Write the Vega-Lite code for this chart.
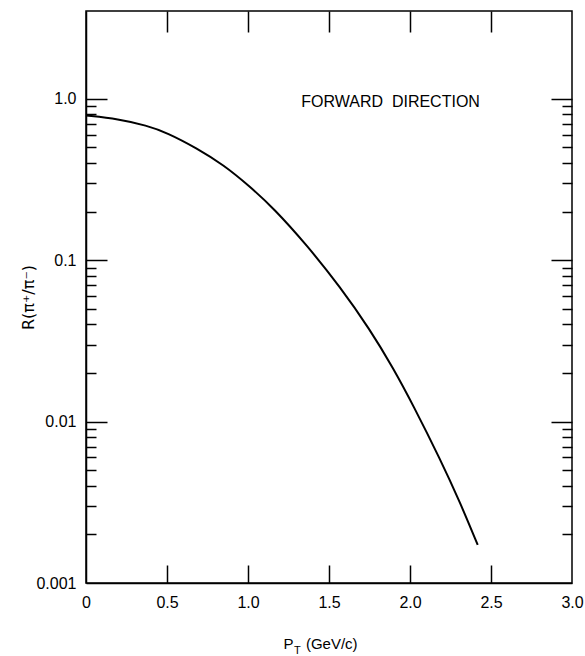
{
  "$schema": "https://vega.github.io/schema/vega-lite/v6.json",
  "width": 486,
  "height": 572,
  "autosize": {"type": "none"},
  "padding": {"left": 86, "top": 11, "right": 13, "bottom": 73},
  "background": "white",
  "config": {
    "view": {"stroke": "black", "strokeWidth": 1.5},
    "axis": {
      "grid": false,
      "domainColor": "black",
      "domainWidth": 1.5,
      "tickColor": "black",
      "tickWidth": 1.5,
      "labelColor": "black",
      "titleColor": "black",
      "labelFont": "Liberation Sans",
      "titleFont": "Liberation Sans",
      "labelFontSize": 16,
      "titleFontWeight": "normal",
      "labelFlush": false,
      "labelOverlap": false
    }
  },
  "datasets": {
    "curve": [
      {"pt": 0.0, "r": 0.788},
      {"pt": 0.2, "r": 0.75},
      {"pt": 0.375, "r": 0.683},
      {"pt": 0.5, "r": 0.617},
      {"pt": 0.683, "r": 0.495},
      {"pt": 0.85, "r": 0.389},
      {"pt": 1.012, "r": 0.286},
      {"pt": 1.156, "r": 0.211},
      {"pt": 1.362, "r": 0.1245},
      {"pt": 1.568, "r": 0.0684},
      {"pt": 1.753, "r": 0.0372},
      {"pt": 1.897, "r": 0.0214},
      {"pt": 2.02, "r": 0.0126},
      {"pt": 2.185, "r": 0.00589},
      {"pt": 2.309, "r": 0.00316},
      {"pt": 2.418, "r": 0.00172}
    ],
    "note": [{"pt": 1.88, "r": 0.958, "label": "FORWARD\u00a0\u00a0DIRECTION"}],
    "sub": [{"pt": 1.305, "r": 0.000379, "label": "T"}]
  },
  "layer": [
    {
      "data": {"name": "curve"},
      "mark": {"type": "line", "color": "black", "strokeWidth": 2, "interpolate": "basis"},
      "encoding": {
        "x": {
          "field": "pt", "type": "quantitative",
          "scale": {"domain": [0, 3], "nice": false, "zero": false},
          "axis": {
            "orient": "bottom",
            "values": [0, 0.5, 1, 1.5, 2, 2.5, 3],
            "ticks": false,
            "labelPadding": 11,
            "labelExpr": "datum.value == 0 ? '0' : format(datum.value, '.1f')",
            "title": "P\u00a0\u00a0\u00a0(GeV/c)",
            "titleFontSize": 15,
            "titlePadding": 26,
            "titleX": 234
          }
        },
        "y": {
          "field": "r", "type": "quantitative",
          "scale": {"type": "log", "domain": [0.001, 3.5], "nice": false},
          "axis": {
            "orient": "left",
            "values": [0.001, 0.01, 0.1, 1],
            "ticks": false,
            "labelPadding": 10,
            "labelExpr": "datum.value >= 0.9 ? '1.0' : datum.value >= 0.09 ? '0.1' : datum.value >= 0.009 ? '0.01' : '0.001'",
            "title": "R(π⁺/π⁻)",
            "titleFont": "DejaVu Sans",
            "titleFontSize": 16,
            "titlePadding": -1
          }
        }
      }
    },
    {
      "data": {"name": "curve"},
      "mark": {"type": "line", "strokeOpacity": 0},
      "encoding": {
        "x": {"field": "pt", "type": "quantitative",
          "axis": {"orient": "top", "values": [0.5, 1, 1.5, 2, 2.5], "tickSize": -21, "labels": false, "domain": false, "title": null}},
        "y": {"field": "r", "type": "quantitative",
          "axis": {"orient": "left", "values": [0.01, 0.1, 1], "tickSize": -21, "labels": false, "domain": false, "title": null}}
      }
    },
    {
      "data": {"name": "curve"},
      "mark": {"type": "line", "strokeOpacity": 0},
      "encoding": {
        "x": {"field": "pt", "type": "quantitative",
          "axis": {"orient": "bottom", "values": [0.5, 1, 1.5, 2, 2.5], "tickSize": -18, "labels": false, "domain": false, "title": null}},
        "y": {"field": "r", "type": "quantitative",
          "axis": {"orient": "left", "values": [0.002, 0.003, 0.004, 0.005, 0.006, 0.007, 0.008, 0.009, 0.02, 0.03, 0.04, 0.05, 0.06, 0.07, 0.08, 0.09, 0.2, 0.3, 0.4, 0.5, 0.6, 0.7, 0.8, 0.9], "tickSize": -10, "labels": false, "domain": false, "title": null}}
      }
    },
    {
      "data": {"name": "curve"},
      "mark": {"type": "line", "strokeOpacity": 0},
      "encoding": {
        "x": {"field": "pt", "type": "quantitative", "axis": null},
        "y": {"field": "r", "type": "quantitative",
          "axis": {"orient": "right", "values": [0.01, 0.1, 1], "tickSize": -21, "labels": false, "domain": false, "title": null}}
      }
    },
    {
      "data": {"name": "curve"},
      "mark": {"type": "line", "strokeOpacity": 0},
      "encoding": {
        "x": {"field": "pt", "type": "quantitative", "axis": null},
        "y": {"field": "r", "type": "quantitative",
          "axis": {"orient": "right", "values": [0.002, 0.003, 0.004, 0.005, 0.006, 0.007, 0.008, 0.009, 0.02, 0.03, 0.04, 0.05, 0.06, 0.07, 0.08, 0.09, 0.2, 0.3, 0.4, 0.5, 0.6, 0.7, 0.8, 0.9], "tickSize": -10, "labels": false, "domain": false, "title": null}}
      }
    },
    {
      "data": {"name": "note"},
      "mark": {"type": "text", "font": "Liberation Sans", "fontSize": 16, "align": "center", "baseline": "middle", "color": "black"},
      "encoding": {
        "x": {"field": "pt", "type": "quantitative", "axis": null},
        "y": {"field": "r", "type": "quantitative", "axis": null},
        "text": {"field": "label"}
      }
    },
    {
      "data": {"name": "sub"},
      "mark": {"type": "text", "font": "Liberation Sans", "fontSize": 11, "align": "center", "baseline": "middle", "color": "black", "clip": false},
      "encoding": {
        "x": {"field": "pt", "type": "quantitative", "axis": null},
        "y": {"field": "r", "type": "quantitative", "axis": null},
        "text": {"field": "label"}
      }
    }
  ]
}
